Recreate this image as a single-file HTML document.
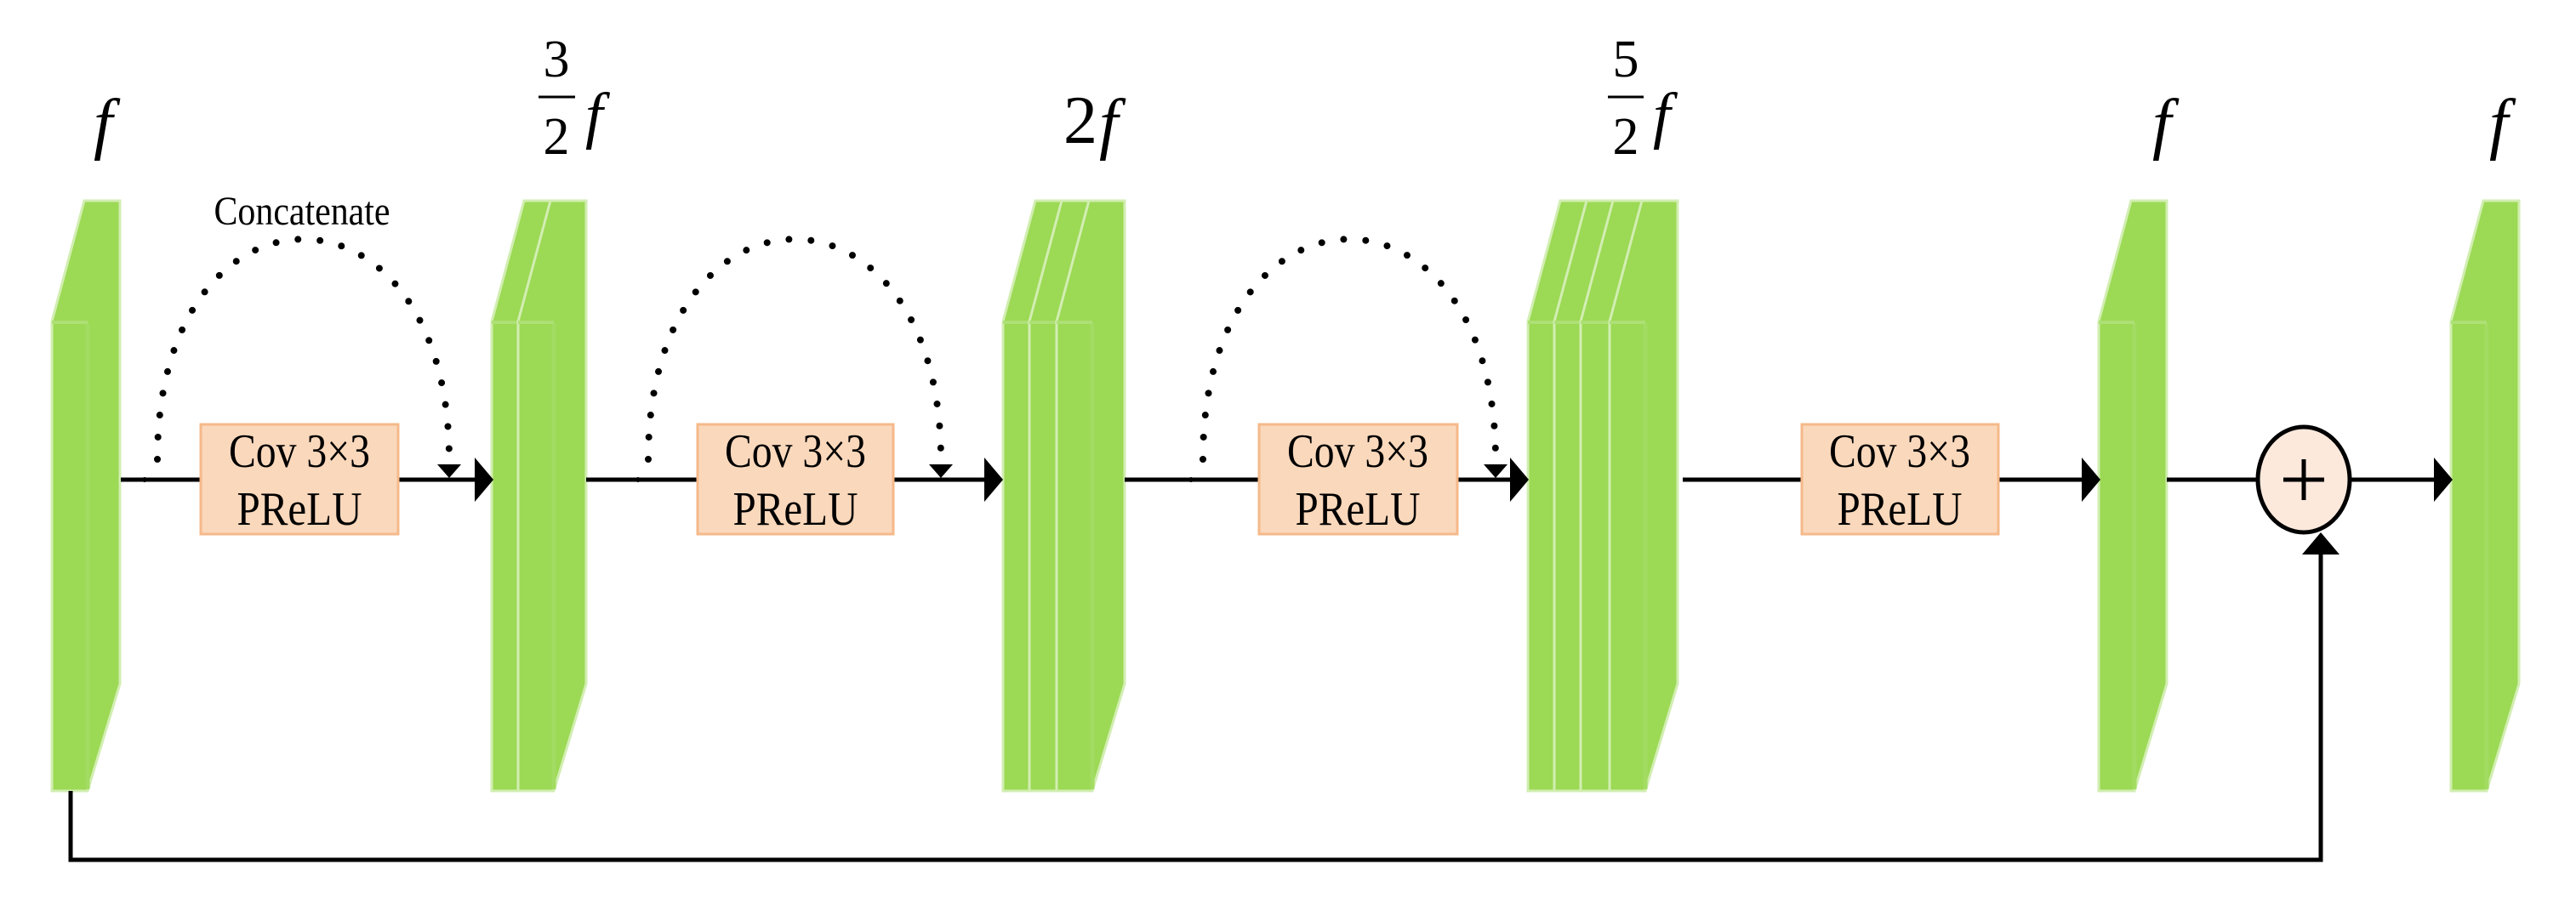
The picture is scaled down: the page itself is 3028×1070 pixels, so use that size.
<!DOCTYPE html>
<html><head><meta charset="utf-8"><style>
html,body{margin:0;padding:0;background:#fff;}
svg{display:block;}
text{font-family:"Liberation Serif",serif;fill:#000;}
</style></head><body>
<svg width="3028" height="1070" viewBox="0 0 3028 1070" xmlns="http://www.w3.org/2000/svg">
<defs>
<g id="slice">
  <polygon points="0,378 38,236 80,236 80,804 42,930 0,930" fill="#9CD955" stroke="#D2EEB2" stroke-width="3"/>
  <line x1="42" y1="380" x2="42" y2="928" stroke="#A3DC62" stroke-width="5"/>
  <line x1="0" y1="379" x2="42" y2="379" stroke="#ADE075" stroke-width="4"/>
</g>
<g id="arrowR"><polygon points="0,-26 22,0 0,26" fill="#000"/></g>
</defs>

<use href="#slice" x="61"/>
<use href="#slice" x="578"/><use href="#slice" x="609"/>
<use href="#slice" x="1179"/><use href="#slice" x="1210"/><use href="#slice" x="1242"/>
<use href="#slice" x="1796"/><use href="#slice" x="1827"/><use href="#slice" x="1858"/><use href="#slice" x="1892"/>
<use href="#slice" x="2467"/>
<use href="#slice" x="2881"/>

<g stroke="#000" stroke-width="5">
<line x1="142" y1="564" x2="236" y2="564"/><line x1="468" y1="564" x2="562" y2="564"/>
<line x1="689" y1="564" x2="820" y2="564"/><line x1="1050" y1="564" x2="1160" y2="564"/>
<line x1="1322" y1="564" x2="1480" y2="564"/><line x1="1713" y1="564" x2="1778" y2="564"/>
<line x1="1978" y1="564" x2="2118" y2="564"/><line x1="2349" y1="564" x2="2450" y2="564"/>
<line x1="2547" y1="564" x2="2654" y2="564"/><line x1="2762" y1="564" x2="2865" y2="564"/>
<polyline points="83,930 83,1011 2728,1011 2728,650" fill="none"/>
</g>
<use href="#arrowR" x="558" y="564"/>
<use href="#arrowR" x="1157" y="564"/>
<use href="#arrowR" x="1775" y="564"/>
<use href="#arrowR" x="2447" y="564"/>
<use href="#arrowR" x="2861" y="564"/>
<polygon points="2706,652 2728,626 2750,652" fill="#000"/>

<g fill="#FAD8BC" stroke="#F5B98A" stroke-width="3">
<rect x="236" y="499" width="232" height="129"/>
<rect x="820" y="499" width="230" height="129"/>
<rect x="1480" y="499" width="233" height="129"/>
<rect x="2118" y="499" width="231" height="129"/>
</g>
<g font-size="56" text-anchor="middle">
<text x="352" y="549" textLength="166" lengthAdjust="spacingAndGlyphs">Cov 3×3</text>
<text x="352" y="617" textLength="147" lengthAdjust="spacingAndGlyphs">PReLU</text>
<text x="935" y="549" textLength="166" lengthAdjust="spacingAndGlyphs">Cov 3×3</text>
<text x="935" y="617" textLength="147" lengthAdjust="spacingAndGlyphs">PReLU</text>
<text x="1596" y="549" textLength="166" lengthAdjust="spacingAndGlyphs">Cov 3×3</text>
<text x="1596" y="617" textLength="147" lengthAdjust="spacingAndGlyphs">PReLU</text>
<text x="2233" y="549" textLength="166" lengthAdjust="spacingAndGlyphs">Cov 3×3</text>
<text x="2233" y="617" textLength="147" lengthAdjust="spacingAndGlyphs">PReLU</text>
</g>

<ellipse cx="2708" cy="564" rx="54" ry="62" fill="#FCE9DC" stroke="#000" stroke-width="5"/>
<line x1="2684" y1="564" x2="2732" y2="564" stroke="#000" stroke-width="5"/>
<line x1="2708" y1="540" x2="2708" y2="588" stroke="#000" stroke-width="5"/>

<g fill="none" stroke="#000" stroke-width="8" stroke-linecap="round" stroke-dasharray="0 26">
<path d="M185,540 C185,195 528,195 528,540"/>
<path d="M762,540 C762,195 1106,195 1106,540"/>
<path d="M1414,540 C1414,195 1758,195 1758,540"/>
</g>
<g fill="#000">
<polygon points="514,546 542,546 528,562"/>
<polygon points="1092,546 1120,546 1106,562"/>
<polygon points="1744,546 1772,546 1758,562"/>
<circle cx="170" cy="564" r="3"/><circle cx="750" cy="564" r="3"/><circle cx="1400" cy="564" r="3"/>
</g>
<text x="355" y="264" font-size="48" text-anchor="middle" textLength="207" lengthAdjust="spacingAndGlyphs">Concatenate</text>

<g font-size="80" font-style="italic">
<text x="110" y="172">f</text>
<text x="1292" y="172">f</text>
<text x="2530" y="172">f</text>
<text x="2926" y="172">f</text>
<text x="688" y="160" font-size="74">f</text>
<text x="1943" y="160" font-size="74">f</text>
</g>
<text x="1250" y="168" font-size="80">2</text>
<g font-size="62" text-anchor="middle">
<text x="654" y="90">3</text>
<text x="654" y="181">2</text>
<text x="1911" y="90">5</text>
<text x="1911" y="181">2</text>
</g>
<line x1="633" y1="114" x2="676" y2="114" stroke="#000" stroke-width="3"/>
<line x1="1890" y1="114" x2="1932" y2="114" stroke="#000" stroke-width="3"/>
</svg>
</body></html>
